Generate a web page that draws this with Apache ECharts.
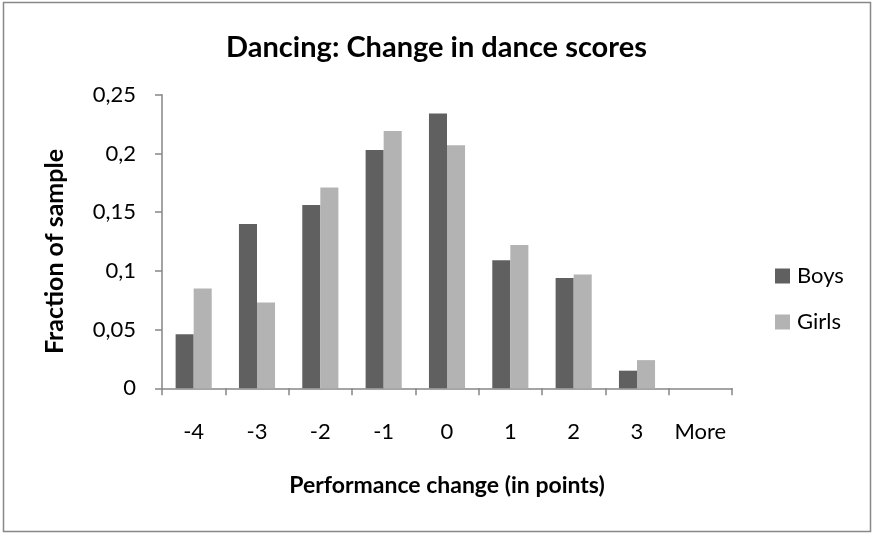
<!DOCTYPE html>
<html>
<head>
<meta charset="utf-8">
<script src="https://cdn.jsdelivr.net/npm/echarts@6/dist/echarts.min.js"></script>
<style>
html, body { margin: 0; padding: 0; background: #fff; }
#main { width: 873px; height: 533px; }
</style>
</head>
<body>
<div id="main"></div>
<script>
// categories on the x axis (performance change in points)
var categories = ['-4', '-3', '-2', '-1', '0', '1', '2', '3', 'More'];
// fraction of sample per category
var boys  = [0.046, 0.140, 0.156, 0.203, 0.234, 0.109, 0.094, 0.015, 0];
var girls = [0.085, 0.073, 0.171, 0.219, 0.207, 0.122, 0.097, 0.024, 0];

var font = 'Lato, "Open Sans", sans-serif';

var option = {
	animation: false,
	backgroundColor: '#fff',
	title: {
		text: 'Dancing: Change in dance scores',
		left: 'center',
		top: 28,
		textStyle: { fontFamily: font, fontSize: 29, fontWeight: 'bold', color: '#000' }
	},
	legend: {
		orient: 'vertical',
		left: 770,
		top: 260,
		itemWidth: 15,
		itemHeight: 15,
		itemGap: 24,
		icon: 'rect',
		textStyle: { fontFamily: font, fontSize: 22, color: '#000', padding: [0, 0, 0, 2] },
		data: ['Boys', 'Girls']
	},
	grid: {
		left: 162,
		right: 141,
		top: 94.7,
		bottom: 144.7
	},
	xAxis: {
		type: 'category',
		data: categories,
		name: 'Performance change (in points)',
		nameLocation: 'middle',
		nameGap: 86,
		nameTextStyle: { fontFamily: font, fontSize: 23, fontWeight: 'bold', color: '#000' },
		axisLine: { lineStyle: { color: '#868686', width: 1.5 } },
		axisTick: { show: true, length: 7, lineStyle: { color: '#868686', width: 1.5 } },
		axisLabel: { interval: 0, margin: 33, fontFamily: font, fontSize: 22, color: '#000' }
	},
	yAxis: {
		type: 'value',
		min: 0,
		max: 0.25,
		interval: 0.05,
		name: 'Fraction of sample',
		nameLocation: 'middle',
		nameGap: 95,
		nameTextStyle: { fontFamily: font, fontSize: 25, fontWeight: 'bold', color: '#000', padding: [0, 20, 0, 0] },
		axisLine: { show: true, lineStyle: { color: '#868686', width: 1.5 } },
		axisTick: { show: true, length: 7, lineStyle: { color: '#868686', width: 1.5 } },
		splitLine: { show: false },
		axisLabel: {
			margin: 26,
			fontFamily: font,
			fontSize: 22,
			color: '#000',
			formatter: function(v) {
				return String(parseFloat(v.toFixed(2))).replace('.', ',');
			}
		}
	},
	graphic: [{
		type: 'rect',
		shape: { x: 3.5, y: 2.5, width: 867, height: 529 },
		style: { fill: 'none', stroke: '#888', lineWidth: 1.5 },
		silent: true
	}],
	series: [{
		name: 'Boys',
		type: 'bar',
		data: boys,
		barGap: '0%',
		barCategoryGap: '43%',
		itemStyle: { color: '#606060' }
	}, {
		name: 'Girls',
		type: 'bar',
		data: girls,
		itemStyle: { color: '#b3b3b3' }
	}]
};

var myChart = echarts.init(document.getElementById('main'));
myChart.setOption(option);
</script>
</body>
</html>
